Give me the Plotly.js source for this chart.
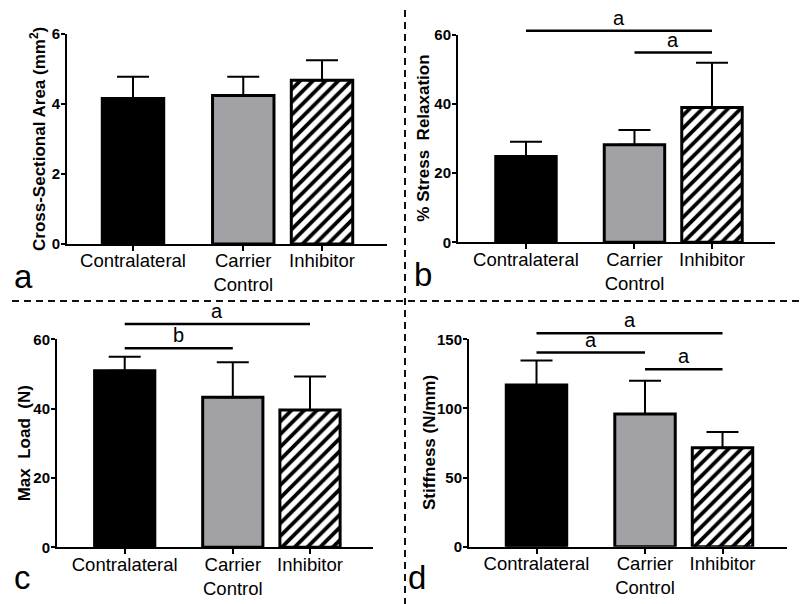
<!DOCTYPE html>
<html>
<head>
<meta charset="utf-8">
<script src="https://cdn.plot.ly/plotly-3.0.1.min.js"></script>
<style>html,body{margin:0;padding:0;background:#fff;}#chart{width:800px;height:604px;}</style>
</head>
<body>
<div id="chart"></div>
<script>
// ---- data ----
const categories = ['Contralateral', 'Carrier<br>Control', 'Inhibitor'];

const areaMean   = [4.16, 4.24, 4.68];
const areaSD     = [0.62, 0.54, 0.57];
const relaxMean  = [24.8, 28.2, 39.0];
const relaxSD    = [4.3, 4.3, 13.0];
const loadMean   = [50.9, 43.3, 39.6];
const loadSD     = [4.1, 10.1, 9.7];
const stiffMean  = [117, 96, 71.6];
const stiffSD    = [17.6, 24.1, 11.4];

const areaTicks  = [0, 2, 4, 6];
const relaxTicks = [0, 20, 40, 60];
const loadTicks  = [0, 20, 40, 60];
const stiffTicks = [0, 50, 100, 150];

// significance comparisons (group index from/to, height in data units, letter)
const relaxSigFrom = [0, 1];
const relaxSigTo   = [2, 2];
const relaxSigY    = [61.2, 54.9];
const relaxSigLbl  = ['a', 'a'];

const loadSigFrom  = [0, 0];
const loadSigTo    = [2, 1];
const loadSigY     = [64.4, 57.4];
const loadSigLbl   = ['a', 'b'];

const stiffSigFrom = [0, 0, 1];
const stiffSigTo   = [2, 1, 2];
const stiffSigY    = [154.4, 140.4, 128.4];
const stiffSigLbl  = ['a', 'a', 'a'];

// ---- layout helpers ----
const W = 800, H = 604;
const catPos = [0, 1.4, 2.4];
const FONT = 'Liberation Sans, Arial, Helvetica, sans-serif';
const barColors = ['#000000', '#a2a2a6', '#ffffff'];
const barPattern = ['', '', '/'];
const px = v => v / W;
const py = v => 1 - v / H;

const panels = [
  {id: '',  mean: areaMean,  sd: areaSD,  ticks: areaTicks,  yr: [0, 6],
   title: 'Cross-Sectional Area (mm<sup>2</sup>)', tx: 38,
   xd: [67, 387], yd: [34, 244], xr: [-0.838, 3.225], letter: 'a', lx: 12, ly: 297},
  {id: '2', mean: relaxMean, sd: relaxSD, ticks: relaxTicks, yr: [0, 60],
   title: '% Stress  Relaxation', tx: 424,
   xd: [458, 775], yd: [35, 242.3], xr: [-0.877, 3.213], letter: 'b', lx: 412, ly: 295,
   sig: {from: relaxSigFrom, to: relaxSigTo, y: relaxSigY, lbl: relaxSigLbl}, sigTop: 0, sigAxis: '5'},
  {id: '3', mean: loadMean,  sd: loadSD,  ticks: loadTicks,  yr: [0, 60],
   title: 'Max  Load  (N)', tx: 24,
   xd: [57, 373], yd: [339.3, 547.3], xr: [-0.877, 3.216], letter: 'c', lx: 12, ly: 598,
   sig: {from: loadSigFrom, to: loadSigTo, y: loadSigY, lbl: loadSigLbl}, sigTop: 304, sigAxis: '6'},
  {id: '4', mean: stiffMean, sd: stiffSD, ticks: stiffTicks, yr: [0, 150],
   title: 'Stiffness (N/mm)', tx: 429,
   xd: [469, 787], yd: [339.3, 546.7], xr: [-0.871, 3.232], letter: 'd', lx: 406, ly: 598,
   sig: {from: stiffSigFrom, to: stiffSigTo, y: stiffSigY, lbl: stiffSigLbl}, sigTop: 304, sigAxis: '7'}
];

const traces = [];
const layout = {
  width: W, height: H,
  margin: {l: 0, r: 0, t: 0, b: 0},
  paper_bgcolor: '#ffffff',
  plot_bgcolor: 'rgba(0,0,0,0)',
  showlegend: false,
  barmode: 'overlay',
  font: {family: FONT, color: '#000'},
  annotations: [],
  shapes: [
    {type: 'line', xref: 'paper', yref: 'paper', x0: px(12), x1: 1, y0: py(301), y1: py(301),
     line: {color: '#111', width: 2, dash: '7px,5px'}},
    {type: 'line', xref: 'paper', yref: 'paper', x0: px(405), x1: px(405), y0: py(10), y1: 0,
     line: {color: '#111', width: 2, dash: '7px,5px'}}
  ]
};

panels.forEach(p => {
  const xa = 'x' + p.id, ya = 'y' + p.id;
  p.mean.forEach((m, i) => {
    const bar = {
      type: 'bar', x: [catPos[i]], y: [m], xaxis: xa, yaxis: ya, width: 0.78,
      marker: {color: barColors[i], line: {color: '#000', width: 3}},
      error_y: {type: 'data', array: [p.sd[i]], arrayminus: [0], symmetric: false,
                color: '#000', thickness: 2, width: 16},
      hoverinfo: 'skip'
    };
    if (barPattern[i]) {
      bar.marker.pattern = {shape: barPattern[i], fgcolor: '#000', fgopacity: 1,
                            size: 9, solidity: 0.42, fillmode: 'overlay'};
    }
    traces.push(bar);
  });
  layout['xaxis' + p.id] = {
    domain: [px(p.xd[0]), px(p.xd[1])], anchor: ya, range: p.xr,
    showline: true, linecolor: '#000', linewidth: 2, mirror: false,
    ticks: 'outside', ticklen: 5, tickwidth: 2, tickcolor: '#000',
    ticklabelstandoff: -6,
    tickvals: catPos, ticktext: categories,
    tickfont: {family: FONT, size: 18.5, color: '#000'},
    showgrid: false, zeroline: false, fixedrange: true
  };
  layout['yaxis' + p.id] = {
    domain: [py(p.yd[1]), py(p.yd[0])], anchor: xa, range: p.yr,
    showline: true, linecolor: '#000', linewidth: 2,
    ticks: 'outside', ticklen: 4, tickwidth: 2, tickcolor: '#000',
    ticklabelstandoff: -2,
    tickvals: p.ticks, ticktext: p.ticks.map(String),
    tickfont: {family: FONT, size: 15, color: '#000', weight: 'bold'},
    showgrid: false, zeroline: false, fixedrange: true
  };
  // y-axis title, placed beside the axis
  layout.annotations.push({
    xref: 'paper', yref: 'paper', x: px(p.tx), y: (py(p.yd[1]) + py(p.yd[0])) / 2,
    xanchor: 'center', yanchor: 'middle', textangle: -90, showarrow: false,
    text: p.title, font: {family: FONT, size: 17, color: '#000', weight: 'bold'}
  });
  layout.annotations.push({
    xref: 'paper', yref: 'paper', x: px(p.lx), y: py(p.ly), xanchor: 'left', yanchor: 'bottom',
    text: p.letter, showarrow: false, font: {family: FONT, size: 33, color: '#000'}
  });
  if (p.sig) {
    const d0 = py(p.yd[1]), d1 = py(p.yd[0]), top = py(p.sigTop);
    const sy = 'y' + p.sigAxis;
    layout['yaxis' + p.sigAxis] = {
      domain: [d0, top], anchor: xa, visible: false, fixedrange: true,
      range: [p.yr[0], p.yr[1] * (top - d0) / (d1 - d0)]
    };
    p.sig.y.forEach((lev, i) => {
      const a = catPos[p.sig.from[i]], b = catPos[p.sig.to[i]];
      traces.push({
        type: 'scatter', mode: 'lines', x: [a, b], y: [lev, lev], xaxis: xa, yaxis: sy,
        line: {color: '#000', width: 2.5}, hoverinfo: 'skip'
      });
      layout.annotations.push({
        xref: xa, yref: sy, x: (a + b) / 2, y: lev, xanchor: 'center', yanchor: 'bottom',
        text: p.sig.lbl[i], showarrow: false, font: {family: FONT, size: 20, color: '#000'}
      });
    });
  }
});

Plotly.newPlot('chart', traces, layout, {displayModeBar: false, staticPlot: true});
</script>
</body>
</html>
